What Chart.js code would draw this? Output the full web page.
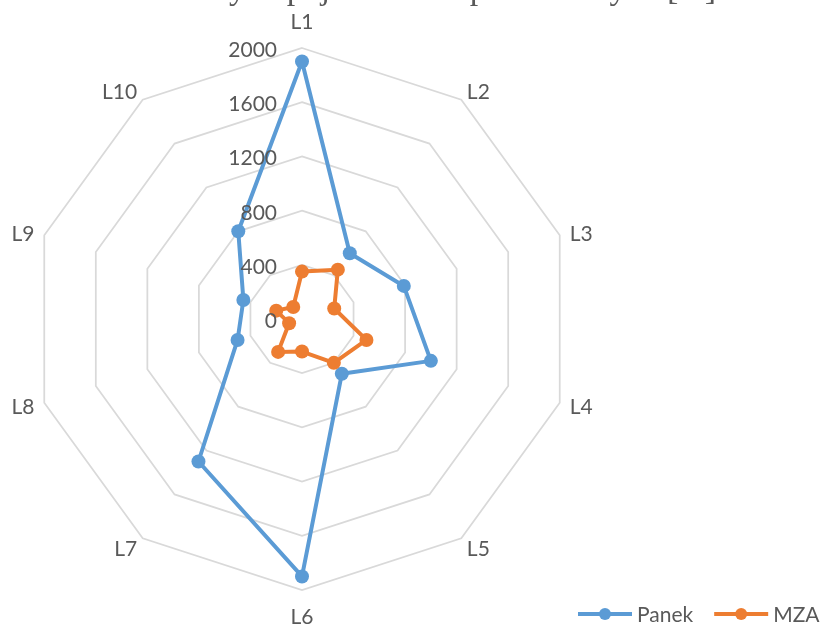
<!DOCTYPE html>
<html>
<head>
<meta charset="utf-8">
<script src="https://cdn.jsdelivr.net/npm/chart.js@4.4.1/dist/chart.umd.min.js"></script>
<style>
  html, body { margin: 0; padding: 0; background: #ffffff; }
  #wrap { position: relative; width: 822px; height: 625px; overflow: hidden; }
  canvas { display: block; }
</style>
</head>
<body>
<div id="wrap"><canvas id="radar" width="822" height="625"></canvas></div>
<script>
// Locations on the radar axes
const categories = ['L1', 'L2', 'L3', 'L4', 'L5', 'L6', 'L7', 'L8', 'L9', 'L10'];

// Series values per location
const panekValues = [1900, 600, 790, 1000, 500, 1900, 1300, 500, 455, 800];
const mzaValues   = [350, 450, 250, 500, 400, 240, 300, 100, 200, 110];

const seriesNames = ['Panek', 'MZA'];
const seriesColors = ['#5B9BD5', '#ED7D31'];

// Radial axis range and tick step
const axisMin = 0;
const axisMax = 2000;
const axisStep = 400;

const titleText = 'Do wolnych pojazdów od przebadanych [m]';

const LABEL_FONT = '21px Lato, "Open Sans", sans-serif';
const TEXT_COLOR = '#595959';
const CAP_HALF = 7.5; // half of the cap height, used to centre text visually

// Draws the title, the radial tick labels, the axis names and the legend
const decorPlugin = {
  id: 'decor',
  afterDraw(chart) {
    const ctx = chart.ctx;
    const s = chart.scales.r;
    ctx.save();

    // chart title (sits mostly above the top edge)
    ctx.font = '34px "Liberation Serif", "Times New Roman", serif';
    ctx.fillStyle = TEXT_COLOR;
    ctx.textAlign = 'left';
    ctx.textBaseline = 'alphabetic';
    ctx.fillText(titleText, 111, -1);

    // tick labels, right-aligned just left of the vertical axis
    ctx.font = LABEL_FONT;
    ctx.textAlign = 'right';
    s.ticks.forEach(t => {
      const y = s.yCenter - s.getDistanceFromCenterForValue(t.value);
      ctx.fillText(String(t.value), s.xCenter - 25, y + 1.5 + CAP_HALF);
    });

    // axis names placed outside each outer vertex
    ctx.textAlign = 'center';
    categories.forEach((name, i) => {
      const v = s.getPointPosition(i, s.drawingArea);
      const sin = (v.x - s.xCenter) / s.drawingArea;
      const cos = (s.yCenter - v.y) / s.drawingArea;
      const w = ctx.measureText(name).width;
      let dx = 0, dy;
      if (Math.abs(sin) > 0.01) {
        dx = Math.sign(sin) * (w / 2 + 12 * Math.abs(sin) - 1.5);
      }
      if (Math.abs(cos) > 0.99) {
        dy = -Math.sign(cos) * 26.5;
      } else {
        dy = -Math.sign(cos) * (13 * Math.abs(cos) - 1.5) + 1.2;
      }
      ctx.fillText(name, v.x + dx, v.y + dy + CAP_HALF);
    });

    // legend: line with a marker, then the series name
    let x = 578;
    const ly = 614;
    ctx.textAlign = 'left';
    chart.data.datasets.forEach(ds => {
      ctx.strokeStyle = ds.borderColor;
      ctx.lineWidth = 4;
      ctx.beginPath();
      ctx.moveTo(x, ly);
      ctx.lineTo(x + 54, ly);
      ctx.stroke();
      ctx.fillStyle = ds.borderColor;
      ctx.beginPath();
      ctx.arc(x + 27, ly, 6, 0, Math.PI * 2);
      ctx.fill();
      ctx.fillStyle = TEXT_COLOR;
      ctx.fillText(ds.label, x + 59, ly + CAP_HALF);
      x += 59 + ctx.measureText(ds.label).width + 21;
    });

    ctx.restore();
  }
};

const values = [panekValues, mzaValues];

new Chart(document.getElementById('radar'), {
  type: 'radar',
  data: {
    labels: categories,
    datasets: seriesNames.map((name, k) => ({
      label: name,
      data: values[k],
      borderColor: seriesColors[k],
      backgroundColor: seriesColors[k],
      pointBackgroundColor: seriesColors[k],
      pointBorderColor: seriesColors[k],
      borderWidth: 4,
      borderJoinStyle: 'round',
      pointRadius: 7,
      pointBorderWidth: 0,
      fill: false,
      order: k === 0 ? 1 : 0
    }))
  },
  options: {
    responsive: false,
    animation: false,
    devicePixelRatio: 1,
    layout: { padding: { left: 31, right: 249, top: 48, bottom: 35 } },
    plugins: {
      legend: { display: false },
      title: { display: false },
      tooltip: { enabled: false }
    },
    scales: {
      r: {
        min: axisMin,
        max: axisMax,
        ticks: { stepSize: axisStep, display: false },
        grid: { color: '#d9d9d9', lineWidth: 1.75 },
        angleLines: { display: false },
        pointLabels: { display: false }
      }
    }
  },
  plugins: [decorPlugin]
});
</script>
</body>
</html>
